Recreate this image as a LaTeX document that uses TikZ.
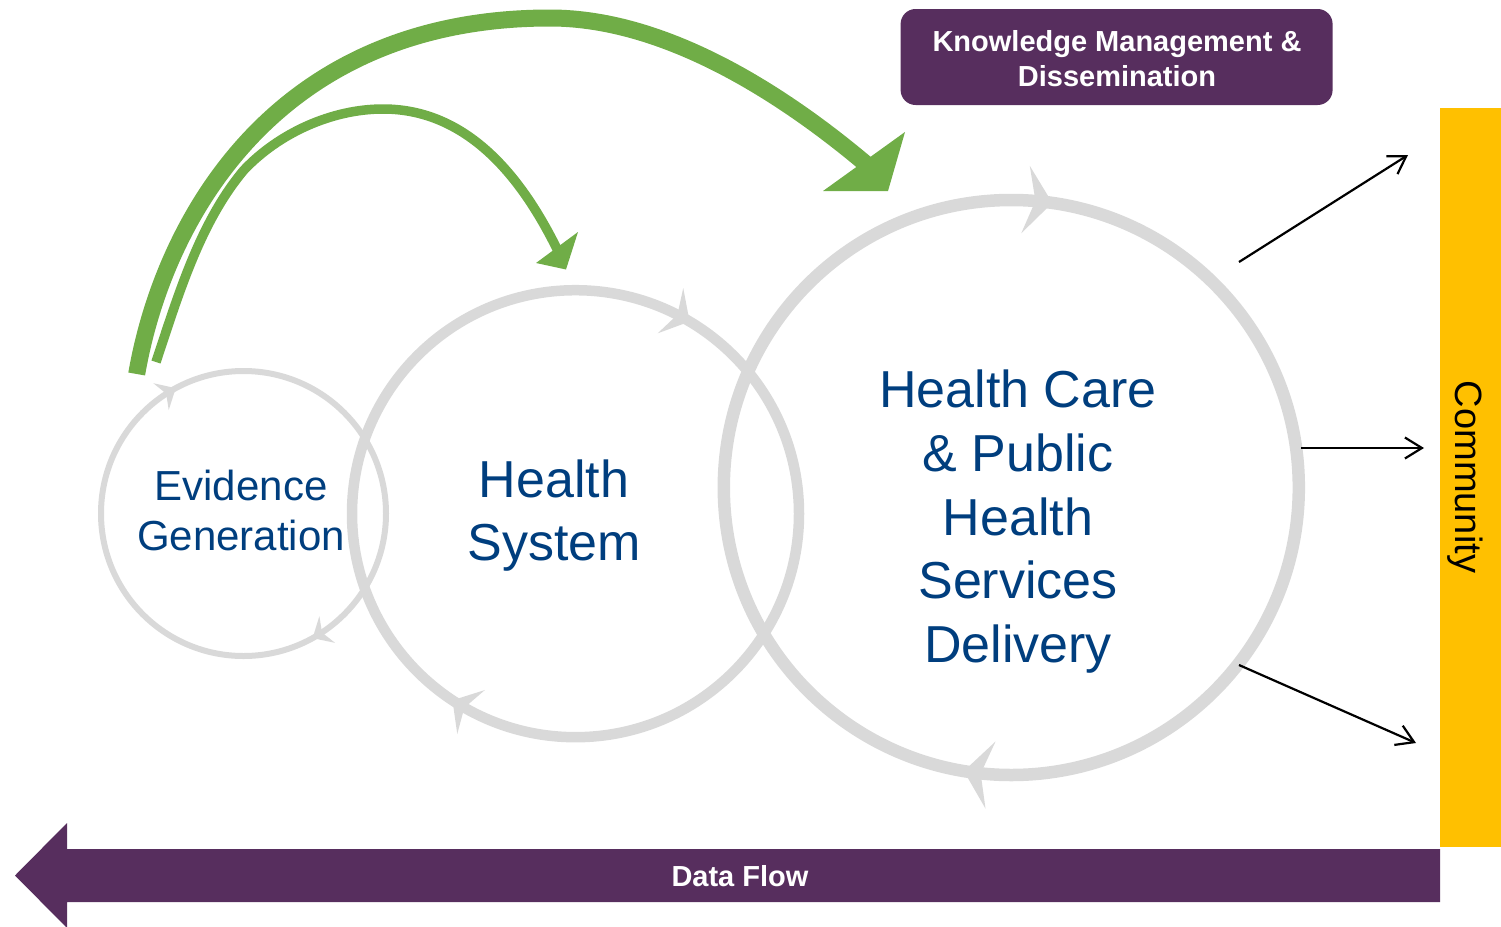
\documentclass[tikz,border=0pt]{standalone}
\usepackage{fontspec}
\setmainfont{Liberation Sans}
\usetikzlibrary{arrows.meta}
\definecolor{cgray}{RGB}{217,217,217}
\definecolor{cgreen}{RGB}{112,173,71}
\definecolor{cpurple}{RGB}{87,46,94}
\definecolor{cyellow}{RGB}{255,192,0}
\definecolor{cblue}{RGB}{0,62,126}
\begin{document}
\begin{tikzpicture}[x=1pt,y=-1pt,
  ring/.style={draw=cgray, line width=#1},
  headS/.style={draw=cgray, line width=1pt, -{Stealth[length=17pt,width=31pt,inset=6pt,line width=0pt,color=cgray]}},
  headM/.style={draw=cgray, line width=1pt, -{Stealth[length=22pt,width=52pt,inset=8pt,line width=0pt,color=cgray]}},
  headL/.style={draw=cgray, line width=1pt, -{Stealth[length=27pt,width=68pt,inset=10pt,line width=0pt,color=cgray]}},
  bluetext/.style={text=cblue, align=center, anchor=base, inner sep=0pt},
  whitebold/.style={text=white, align=center, anchor=base, inner sep=0pt, font=\bfseries\fontsize{29}{35}\selectfont},
  greenband/.style={draw=cgreen, line width=#1},
  outarrow/.style={draw=black, line width=2.2pt, -{Straight Barb[length=17pt,width=21pt]}},
]
\useasboundingbox (0,0) rectangle (1501,926);

% circle centres
\coordinate (ce) at (243.5,513.5);
\coordinate (ch) at (575.5,513.7);
\coordinate (cb) at (1011.3,487.5);

% circles
\draw[ring=6pt] (ce) circle[radius=142.5];
\draw[ring=10.5pt] (ch) circle[radius=223.5];
\draw[ring=12.5pt] (cb) circle[radius=287.5];

% arrowheads on the circles (clockwise)
\path (ce) ++(238.6:142.5) coordinate (e1a);  \path (ce) ++(241.6:142.5) coordinate (e1b);
\path (ce) ++(58:142.5) coordinate (e2a);     \path (ce) ++(61:142.5) coordinate (e2b);
\draw[headS] (e1a) -- (e1b);
\draw[headS] (e2a) -- (e2b);
\path (ch) ++(298.2:223.5) coordinate (h1a);  \path (ch) ++(300.7:223.5) coordinate (h1b);
\path (ch) ++(120.9:223.5) coordinate (h2a);  \path (ch) ++(123.4:223.5) coordinate (h2b);
\draw[headM] (h1a) -- (h1b);
\draw[headM] (h2a) -- (h2b);
\path (cb) ++(276.2:287.5) coordinate (b1a);  \path (cb) ++(278.2:287.5) coordinate (b1b);
\path (cb) ++(97.5:287.5) coordinate (b2a);   \path (cb) ++(99.5:287.5) coordinate (b2b);
\draw[headL] (b1a) -- (b1b);
\draw[headL] (b2a) -- (b2b);

% texts
\node[bluetext, font=\fontsize{42}{50}\selectfont] (evid) at (241,550) {Evidence\\Generation};
\node[bluetext, font=\fontsize{52}{63}\selectfont] (hs) at (554,560.5) {Health\\System};
\node[bluetext, font=\fontsize{52}{63.75}\selectfont] (hcp) at (1018,662.7) {Health Care\\\& Public\\Health\\Services\\Delivery};

% green arrows
\coordinate (g1s) at (136.7,374);
\coordinate (g1e) at (866,164);
\draw[greenband=17pt] (g1s) .. controls (162.2,226.3) and (270,18) .. (550,18)
   .. controls (670,18) and (790,100) .. (g1e);
\fill[cgreen] (905,132) -- (888,191) -- (823,191) -- cycle;
\coordinate (g2s) at (156,362);
\coordinate (g2e) at (558,251);
\draw[greenband=9.5pt] (g2s) .. controls (178.1,295.6) and (200,222) .. (244,170)
   .. controls (279,133) and (332,109) .. (383,109)
   .. controls (475,109) and (528,190) .. (g2e);
\fill[cgreen] (578,232) -- (566,269.5) -- (536,263) -- cycle;

% knowledge box
\node[fill=cpurple, rounded corners=15pt, minimum width=432pt, minimum height=96pt, inner sep=0pt] (km) at (1116.6,57) {};
\node[whitebold] (kmt) at (1117,86.7) {Knowledge Management \&\\Dissemination};

% community bar
\fill[cyellow] (1440,108) rectangle (1501,846.7);
\node[anchor=base, rotate=-90, inner sep=0pt, font=\fontsize{38}{44}\selectfont] (comm) at (1455,477) {Community};

% outgoing arrows
\coordinate (a1s) at (1239,262);  \coordinate (a1e) at (1408,155);
\coordinate (a2s) at (1301,448);  \coordinate (a2e) at (1424,448);
\coordinate (a3s) at (1239,665);  \coordinate (a3e) at (1416,743);
\draw[outarrow] (a1s) -- (a1e);
\draw[outarrow] (a2s) -- (a2e);
\draw[outarrow] (a3s) -- (a3e);

% data flow arrow
\fill[cpurple] (15,875.5) -- (67,823) -- (67,849) -- (1440,849) -- (1440,902) -- (67,902) -- (67,928) -- cycle;
\node[whitebold] (df) at (740,886.7) {Data Flow};
\end{tikzpicture}
\end{document}
